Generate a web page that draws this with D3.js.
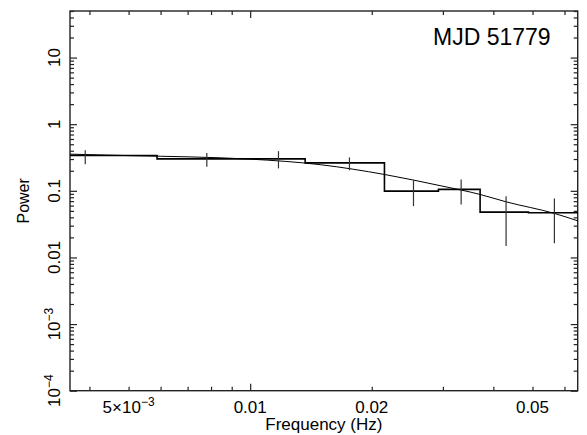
<!DOCTYPE html>
<html lang="en">
<head>
    <meta charset="UTF-8">
    <title>MJD 51779 power spectrum</title>
    <script src="https://cdn.jsdelivr.net/npm/d3@7"></script>
    <style>
        body { margin: 0; background: #fff; }
        text { font-family: "Liberation Sans", Arial, Helvetica, sans-serif; fill: #000; }
    </style>
</head>
<body>
<script type="application/javascript">
    // 数据：分段直方图（功率谱）
    const binEdges = [0.00358, 0.00588, 0.01368, 0.0215, 0.02925, 0.03709, 0.04886, 0.0647];
    const binPower = [0.339, 0.302, 0.263, 0.0989, 0.105, 0.0479, 0.0468];

    // 误差棒
    const errFreq = [0.003905, 0.00781, 0.01175, 0.01761, 0.02537, 0.03329, 0.04301, 0.05665];
    const errLow  = [0.251, 0.229, 0.217, 0.204, 0.0589, 0.0625, 0.0148, 0.0163];
    const errHigh = [0.407, 0.371, 0.394, 0.317, 0.1446, 0.148, 0.0832, 0.0769];

    // 模型曲线
    const modelFreq  = [0.00358, 0.00505, 0.0071, 0.01, 0.0149, 0.0215, 0.02953, 0.03709, 0.04301, 0.05665, 0.0647];
    const modelPower = [0.355, 0.337, 0.323, 0.299, 0.247, 0.176, 0.1196, 0.0882, 0.0684, 0.0458, 0.0355];

    // 刻度
    const xMajor = [0.01];
    const xMinor = [0.004, 0.005, 0.006, 0.007, 0.008, 0.009, 0.02, 0.03, 0.04, 0.05, 0.06];
    const xLabels = [
        {v: 0.005, base: '5×10', sup: '−3'},
        {v: 0.01, base: '0.01', sup: ''},
        {v: 0.02, base: '0.02', sup: ''},
        {v: 0.05, base: '0.05', sup: ''}
    ];
    const yLabels = [
        {v: 1e-4, base: '10', sup: '−4'},
        {v: 1e-3, base: '10', sup: '−3'},
        {v: 0.01, base: '0.01', sup: ''},
        {v: 0.1, base: '0.1', sup: ''},
        {v: 1, base: '1', sup: ''},
        {v: 10, base: '10', sup: ''}
    ];

    const w = 587, h = 435;
    const mLeft = 70, mRight = 577.7, mTop = 11, mBottom = 390.7;

    let svg = d3.select('body')
        .append('svg')
        .attr('width', w)
        .attr('height', h);

    svg.append('rect').attr('width', w).attr('height', h).attr('fill', '#fff');

    let xScale = d3.scaleLog()
        .domain([binEdges[0], binEdges[binEdges.length - 1]])
        .range([mLeft, mRight]);

    let yScale = d3.scaleLog()
        .domain([1e-4, 50])
        .range([mBottom, mTop]);

    // y 轴刻度：十进制主刻度 + 2..9 副刻度
    let yMajor = [], yMinor = [];
    for (let e = -4; e <= 1; e++) {
        yMajor.push(Math.pow(10, e));
        for (let k = 2; k <= 9; k++) {
            let v = k * Math.pow(10, e);
            if (v <= 50) yMinor.push(v);
        }
    }

    let frame = svg.append('g');

    // 四条边上的刻度都朝内
    function ticks(axisFn, scale, vals, size, transform) {
        let g = frame.append('g')
            .attr('transform', transform)
            .call(axisFn(scale).tickValues(vals).tickSize(size).tickFormat(''));
        g.select('.domain').remove();
        g.selectAll('line').attr('stroke', '#222').attr('stroke-width', 1.2);
    }
    ticks(d3.axisTop, xScale, xMajor, 7, `translate(0,${mBottom})`);
    ticks(d3.axisTop, xScale, xMinor, 4, `translate(0,${mBottom})`);
    ticks(d3.axisBottom, xScale, xMajor, 7, `translate(0,${mTop})`);
    ticks(d3.axisBottom, xScale, xMinor, 4, `translate(0,${mTop})`);
    ticks(d3.axisRight, yScale, yMajor, 7, `translate(${mLeft},0)`);
    ticks(d3.axisRight, yScale, yMinor, 4, `translate(${mLeft},0)`);
    ticks(d3.axisLeft, yScale, yMajor, 7, `translate(${mRight},0)`);
    ticks(d3.axisLeft, yScale, yMinor, 4, `translate(${mRight},0)`);

    frame.append('rect')
        .attr('x', mLeft).attr('y', mTop)
        .attr('width', mRight - mLeft).attr('height', mBottom - mTop)
        .attr('fill', 'none').attr('stroke', '#222').attr('stroke-width', 1.4);

    // x 轴刻度文字
    let xt = svg.selectAll('.xlab')
        .data(xLabels)
        .enter()
        .append('text')
        .attr('class', 'xlab')
        .attr('x', d => xScale(d.v))
        .attr('y', 413)
        .attr('text-anchor', 'middle')
        .attr('font-size', '17px');
    xt.append('tspan').text(d => d.base);
    xt.append('tspan').attr('font-size', '12px').attr('dy', -7).text(d => d.sup);

    // y 轴刻度文字（旋转）
    let yt = svg.selectAll('.ylab')
        .data(yLabels)
        .enter()
        .append('text')
        .attr('class', 'ylab')
        .attr('transform', d => `translate(60,${yScale(d.v)}) rotate(-90)`)
        .attr('text-anchor', 'middle')
        .attr('font-size', '17px');
    yt.append('tspan').text(d => d.base);
    yt.append('tspan').attr('font-size', '12px').attr('dy', -7).text(d => d.sup);

    svg.append('text')
        .attr('x', (mLeft + mRight) / 2)
        .attr('y', 430)
        .attr('text-anchor', 'middle')
        .attr('font-size', '17px')
        .text('Frequency (Hz)');

    svg.append('text')
        .attr('transform', `translate(29,${(mTop + mBottom) / 2}) rotate(-90)`)
        .attr('text-anchor', 'middle')
        .attr('font-size', '16px')
        .text('Power');

    svg.append('text')
        .attr('x', 433)
        .attr('y', 45)
        .attr('font-size', '23px')
        .text('MJD 51779');

    let plot = svg.append('g');

    // 模型曲线
    let modelLine = d3.line()
        .x(d => xScale(d[0]))
        .y(d => yScale(d[1]))
        .curve(d3.curveMonotoneX);
    plot.append('path')
        .datum(d3.zip(modelFreq, modelPower))
        .attr('d', modelLine)
        .attr('fill', 'none')
        .attr('stroke', '#000')
        .attr('stroke-width', 1);

    // 阶梯直方图
    let stepData = binEdges.map((e, i) => [e, binPower[Math.min(i, binPower.length - 1)]]);
    let stepLine = d3.line()
        .x(d => xScale(d[0]))
        .y(d => yScale(d[1]))
        .curve(d3.curveStepAfter);
    plot.append('path')
        .datum(stepData)
        .attr('d', stepLine)
        .attr('fill', 'none')
        .attr('stroke', '#000')
        .attr('stroke-width', 1.6);

    // 误差棒
    plot.selectAll('.err')
        .data(errFreq.map((f, i) => [f, errLow[i], errHigh[i]]))
        .enter()
        .append('line')
        .attr('class', 'err')
        .attr('x1', d => xScale(d[0]))
        .attr('x2', d => xScale(d[0]))
        .attr('y1', d => yScale(d[1]))
        .attr('y2', d => yScale(d[2]))
        .attr('stroke', '#333')
        .attr('stroke-width', 1.2);
</script>
</body>
</html>
